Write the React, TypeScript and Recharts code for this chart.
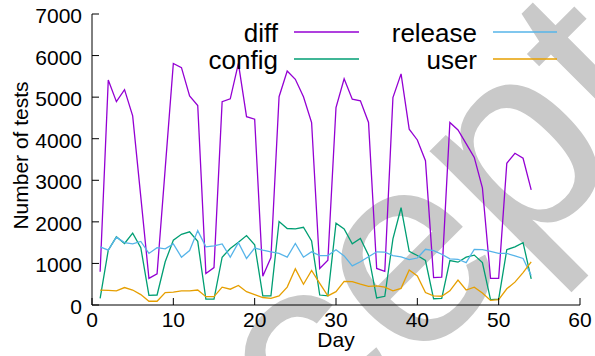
import React from 'react';
import { LineChart, Line, XAxis, YAxis, Legend } from 'recharts';

const days = [
  1, 2, 3, 4, 5, 6, 7, 8, 9, 10, 11, 12, 13, 14, 15, 16, 17, 18,
  19, 20, 21, 22, 23, 24, 25, 26, 27, 28, 29, 30, 31, 32, 33, 34, 35, 36,
  37, 38, 39, 40, 41, 42, 43, 44, 45, 46, 47, 48, 49, 50, 51, 52, 53, 54,
];

const diffTests = [
  800, 5410, 4890, 5180, 4550, 2600, 640, 750, 3280, 5810, 5710, 5030, 4800, 760, 900, 4890, 4960, 5810,
  4530, 4470, 690, 1140, 5010, 5630, 5430, 5010, 4390, 880, 1080, 4750, 5440, 4950, 4910, 4390, 880, 810,
  4990, 5560, 4230, 3970, 3470, 660, 670, 4390, 4210, 3880, 3550, 2820, 640, 640, 3410, 3650, 3530, 2770,
];

const configTests = [
  160, 1320, 1640, 1480, 1730, 1380, 230, 240, 1040, 1560, 1700, 1760, 1530, 140, 140, 1150, 1360, 1510,
  1670, 1450, 220, 220, 2010, 1840, 1830, 1870, 1540, 240, 220, 1970, 1830, 1470, 1600, 1200, 170, 210,
  1590, 2340, 1290, 1190, 1070, 150, 160, 1070, 1030, 1150, 1200, 1020, 130, 140, 1330, 1400, 1500, 630,
];

const releaseTests = [
  1400, 1320, 1630, 1500, 1470, 1530, 1240, 1380, 1350, 1470, 1150, 1310, 1790, 1400, 1420, 1470, 1150, 1500,
  1120, 1370, 1320, 1280, 1240, 1150, 1480, 1150, 1280, 1190, 1190, 1330, 1180, 940, 1040, 1160, 1280, 1270,
  1190, 1160, 1090, 1130, 1340, 1310, 1220, 1110, 1100, 1020, 1340, 1330, 1290, 1240, 1240, 1180, 1120, 710,
];

const userTests = [
  360, 350, 340, 420, 360, 250, 90, 90, 300, 310, 340, 340, 360, 200, 200, 430, 380, 470,
  320, 250, 180, 160, 220, 430, 870, 500, 830, 520, 220, 320, 570, 560, 500, 450, 460, 430,
  340, 400, 840, 700, 300, 220, 210, 340, 600, 360, 430, 290, 110, 130, 390, 550, 780, 1040,
];

const xTicks = [0, 10, 20, 30, 40, 50, 60];
const yTicks = [0, 1000, 2000, 3000, 4000, 5000, 6000, 7000];

const seriesNames = ['diff', 'config', 'release', 'user'];
const seriesColors = ['#9400d3', '#009e73', '#56b4e9', '#e69f00'];

const data = days.map((d, i) => ({
  day: d,
  diff: diffTests[i],
  config: configTests[i],
  release: releaseTests[i],
  user: userTests[i],
}));

const FONT = '"Liberation Sans", Arial, Helvetica, sans-serif';
const TICK_LEN = 7;

const BottomTick = (props: any) => {
  const { x, y, payload } = props;
  return (
    <g>
      <line x1={x} x2={x} y1={y} y2={y - TICK_LEN} stroke="#000" strokeWidth={1} />
      <text x={x} y={y + 7} dy="0.71em" textAnchor="middle" fontSize={21} fontFamily={FONT} fill="#000">
        {payload.value}
      </text>
    </g>
  );
};

const TopTick = (props: any) => {
  const { x, y } = props;
  return <line x1={x} x2={x} y1={y} y2={y + TICK_LEN} stroke="#000" strokeWidth={1} />;
};

const LeftTick = (props: any) => {
  const { x, y, payload } = props;
  return (
    <g>
      <line x1={x} x2={x + TICK_LEN} y1={y} y2={y} stroke="#000" strokeWidth={1} />
      <text x={x - 10} y={y} dy={9} textAnchor="end" fontSize={21} fontFamily={FONT} fill="#000">
        {payload.value}
      </text>
    </g>
  );
};

const RightTick = (props: any) => {
  const { x, y } = props;
  return <line x1={x} x2={x - TICK_LEN} y1={y} y2={y} stroke="#000" strokeWidth={1} />;
};

const renderLegend = (props: any) => {
  const payload = [...(props.payload || [])].sort(
    (a: any, b: any) => seriesNames.indexOf(a.value) - seriesNames.indexOf(b.value)
  );
  const cols = [
    { textX: 278, lineX1: 294, lineX2: 359 },
    { textX: 477, lineX1: 493, lineX2: 557 },
  ];
  const rows = [32, 59];
  return (
    <svg width={595} height={80} style={{ display: 'block' }}>
      {payload.map((item: any, i: number) => {
        const c = cols[Math.floor(i / 2)];
        const ry = rows[i % 2];
        return (
          <g key={item.value}>
            <text x={c.textX} y={ry + 10} textAnchor="end" fontSize={26} fontFamily={FONT} fill="#000">
              {item.value}
            </text>
            <line x1={c.lineX1} x2={c.lineX2} y1={ry} y2={ry} stroke={item.color} strokeWidth={1.3} />
          </g>
        );
      })}
    </svg>
  );
};

const YLabel = (props: any) => {
  const vb = props.viewBox;
  const cx = 21;
  const cy = vb.y + vb.height / 2 - 4;
  return (
    <text
      x={cx}
      y={cy}
      dy="0.355em"
      transform={`rotate(-90 ${cx} ${cy})`}
      textAnchor="middle"
      fontSize={21}
      fontFamily={FONT}
      fill="#000"
    >
      Number of tests
    </text>
  );
};

const XLabel = (props: any) => {
  const vb = props.viewBox;
  return (
    <text x={vb.x + vb.width / 2} y={346.5} textAnchor="middle" fontSize={21} fontFamily={FONT} fill="#000">
      Day
    </text>
  );
};

export default function App() {
  return (
    <div
      style={{
        position: 'absolute',
        left: 0,
        top: 0,
        width: 595,
        height: 356,
        background: '#fff',
        overflow: 'hidden',
      }}
    >
      <svg width={595} height={356} style={{ position: 'absolute', left: 0, top: 0 }}>
        <text
          x={492}
          y={292}
          transform="rotate(-45 492 292)"
          textAnchor="middle"
          fontSize={272}
          fontFamily={FONT}
          fill="#c9c9c9"
        >
          Accepted
        </text>
      </svg>
      <div style={{ position: 'absolute', left: 0, top: 0 }}>
        <LineChart width={595} height={356} data={data} margin={{ top: 14, right: 15, bottom: 0, left: 0 }}>
          <XAxis
            dataKey="day"
            type="number"
            domain={[0, 60]}
            ticks={xTicks}
            interval={0}
            allowDataOverflow
            height={51}
            tickSize={0}
            tickMargin={0}
            tickLine={false}
            axisLine={{ stroke: '#000', strokeWidth: 1 }}
            tick={BottomTick}
            label={{ content: XLabel }}
          />
          <XAxis
            xAxisId="top"
            orientation="top"
            type="number"
            domain={[0, 60]}
            ticks={xTicks}
            interval={0}
            allowDataOverflow
            height={0}
            tickSize={0}
            tickMargin={0}
            tickLine={false}
            axisLine={{ stroke: '#000', strokeWidth: 1 }}
            tick={TopTick}
          />
          <YAxis
            type="number"
            domain={[0, 7000]}
            ticks={yTicks}
            interval={0}
            allowDataOverflow
            width={92}
            tickSize={0}
            tickMargin={0}
            tickLine={false}
            axisLine={{ stroke: '#000', strokeWidth: 1 }}
            tick={LeftTick}
            label={{ content: YLabel }}
          />
          <YAxis
            yAxisId="right"
            orientation="right"
            type="number"
            domain={[0, 7000]}
            ticks={yTicks}
            interval={0}
            allowDataOverflow
            width={0}
            tickSize={0}
            tickMargin={0}
            tickLine={false}
            axisLine={{ stroke: '#000', strokeWidth: 1 }}
            tick={RightTick}
          />
          <Legend
            layout="horizontal"
            verticalAlign="middle"
            align="center"
            content={renderLegend}
            wrapperStyle={{ position: 'absolute', left: 0, top: 0, width: 595, height: 80, margin: 0 }}
          />
          {seriesNames.map((name, i) => (
            <Line
              key={name}
              type="linear"
              dataKey={name}
              name={name}
              stroke={seriesColors[i]}
              strokeWidth={1.3}
              dot={false}
              activeDot={false}
              isAnimationActive={false}
            />
          ))}
        </LineChart>
      </div>
    </div>
  );
}
